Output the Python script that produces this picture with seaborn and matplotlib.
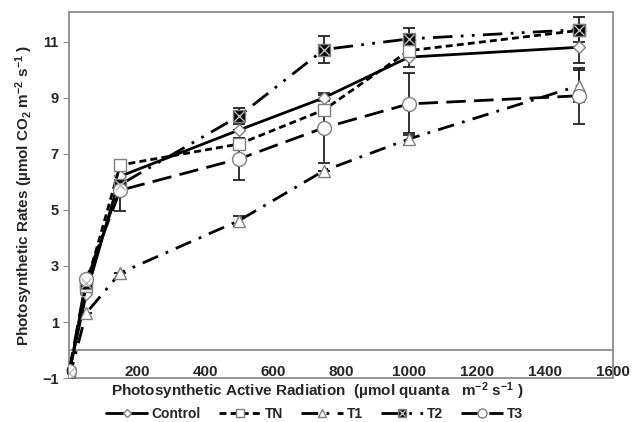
import matplotlib
matplotlib.use("Agg")
import matplotlib.pyplot as plt
import seaborn as sns
from matplotlib.legend_handler import HandlerTuple

# light intensities (PAR)
par = [0, 50, 150, 500, 750, 1000, 1500]

control = [-0.8, 2.0, 6.2, 7.85, 9.0, 10.45, 10.8]
tn = [-0.8, 2.3, 6.6, 7.35, 8.57, 10.68, 11.4]
t1 = [-1.0, 1.32, 2.75, 4.62, 6.4, 7.53, 9.43]
t2 = [-0.8, 2.4, 5.9, 8.35, 10.72, 11.1, 11.43]
t3 = [-0.75, 2.53, 5.7, 6.82, 7.93, 8.78, 9.07]

control_sd = [0, 0, 0, 0, 0.1, 0.36, 0.55]
tn_sd = [0, 0, 0, 0.2, 0, 0, 0]
t1_sd = [0, 0, 0, 0.18, 0, 0.2, 0.57]
t2_sd = [0, 0, 0, 0.28, 0.47, 0.4, 0.45]
t3_sd = [0, 0, 0.75, 0.75, 1.25, 1.1, 1.0]

sns.set_style("white")
plt.rcParams["font.family"] = ["Liberation Sans", "DejaVu Sans"]
plt.rcParams["font.weight"] = "bold"
plt.rcParams["mathtext.default"] = "regular"

fig, ax = plt.subplots(figsize=(6.35, 4.22), dpi=100)
fig.subplots_adjust(left=0.109, right=0.965, top=0.971, bottom=0.104)

edge = "#7f7f7f"
series = [
    ("Control", control, control_sd, "-", "D", "white", 6),
    ("TN", tn, tn_sd, (0, (2.5, 1.5)), "s", "white", 8),
    ("T1", t1, t1_sd, (0, (6, 3, 1, 3)), "^", "white", 8),
    ("T2", t2, t2_sd, (0, (7, 3, 1, 3, 1, 3)), "s", "black", 9),
    ("T3", t3, t3_sd, (0, (7, 3)), "o", "white", 10),
]

handles = []
for name, vals, sd, ls, mk, fc, ms in series:
    ax.errorbar(par, vals, yerr=sd, fmt="none", ecolor="#222222",
                elinewidth=1.3, capsize=4, capthick=1.3, zorder=2)
    sns.lineplot(x=par, y=vals, ax=ax, color="black", lw=2, linestyle=ls,
                 marker=mk, markerfacecolor=fc, markeredgecolor=edge,
                 markeredgewidth=1, markersize=ms, zorder=3)
    line = ax.lines[-1]
    if name == "T2":
        ax.plot(par, vals, linestyle="none", marker="x", color="#bbbbbb",
                markersize=7, markeredgewidth=1, zorder=4)
        handles.append((line, ax.lines[-1]))
    else:
        handles.append(line)

ax.set_xlim(0, 1600)
ax.set_ylim(-1, 12.05)
ax.set_yticks([-1, 1, 3, 5, 7, 9, 11])
ax.set_xticks(range(0, 1601, 200))

for s in ax.spines.values():
    s.set_color("#8c8c8c")
    s.set_linewidth(1.3)
ax.spines["bottom"].set_position(("data", 0))
ax.axhline(-1, color="#8c8c8c", lw=1.3, clip_on=False)

ax.tick_params(axis="x", direction="in", length=4, color="#8c8c8c",
               pad=11, labelsize=11)
ax.tick_params(axis="y", direction="out", length=4, color="#8c8c8c",
               left=True, labelsize=10.5)

ax.set_xlabel("Photosynthetic Active Radiation  (\u00b5mol quanta   m$^{-2}$ s$^{-1}$ )",
              fontsize=11, fontweight="bold")
ax.set_ylabel("Photosynthetic Rates (\u00b5mol CO$_2$ m$^{-2}$ s$^{-1}$ )",
              fontsize=11, fontweight="bold", labelpad=5)
ax.xaxis.set_label_coords(0.456, -0.006)

fig.legend(handles, [s[0] for s in series], loc="lower center", ncol=5,
           bbox_to_anchor=(0.495, -0.028), frameon=False, fontsize=10,
           handlelength=3, handletextpad=0.3, columnspacing=1.3,
           markerscale=0.65,
           handler_map={tuple: HandlerTuple(ndivide=1, pad=0)})

fig.savefig("out.png", dpi=100)
